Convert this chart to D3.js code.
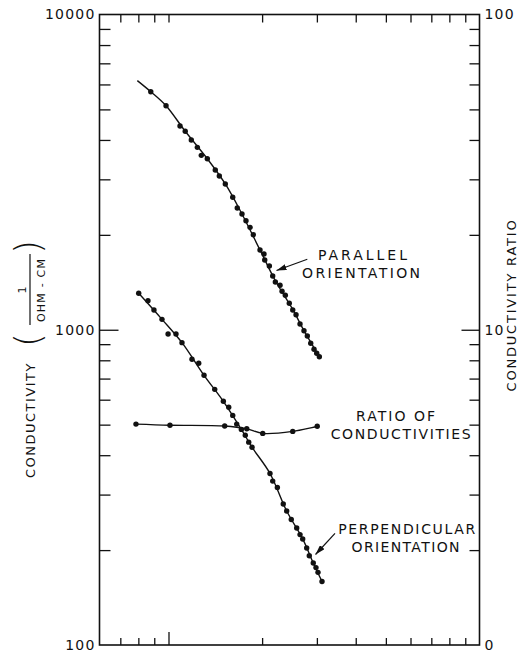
<!DOCTYPE html>
<html>
<head>
<meta charset="utf-8">
<script src="https://cdn.jsdelivr.net/npm/d3@7"></script>
<style>
body { margin: 0; background: #fff; }
text { font-family: "DejaVu Sans", sans-serif; fill: #111; }
</style>
</head>
<body>
<div id="chart"></div>
<script>
// parallel orientation (measured points)
var parallelX = [0.877, 0.982, 1.089, 1.132, 1.184, 1.238, 1.275, 1.333, 1.414, 1.457, 1.523, 1.609, 1.664, 1.723, 1.775, 1.829, 1.874, 1.969, 2.028, 2.039, 2.110, 2.163, 2.206, 2.284, 2.318, 2.375, 2.446, 2.509, 2.571, 2.648, 2.727, 2.795, 2.866, 2.937, 2.996, 3.055];
var parallelY = [5690, 5136, 4429, 4262, 3999, 3790, 3575, 3488, 3211, 3074, 2900, 2631, 2434, 2329, 2218, 2113, 2002, 1791, 1739, 1664, 1593, 1481, 1417, 1384, 1324, 1286, 1213, 1155, 1116, 1043, 993, 955, 906, 867, 842, 821];
// smooth curve drawn through them
var parallelCurveX = [0.794, 0.877, 0.982, 1.132, 1.333, 1.523, 1.723, 1.969, 2.206, 2.509, 2.727, 3.055];
var parallelCurveY = [6170, 5690, 5136, 4262, 3488, 2900, 2329, 1791, 1430, 1160, 993, 821];

// perpendicular orientation
var perpX = [0.802, 0.859, 0.898, 0.953, 0.997, 1.057, 1.105, 1.190, 1.251, 1.301, 1.408, 1.501, 1.562, 1.609, 1.657, 1.715, 1.766, 1.811, 1.856, 2.120, 2.163, 2.239, 2.339, 2.399, 2.482, 2.584, 2.648, 2.701, 2.782, 2.836, 2.921, 2.980, 3.025, 3.116];
var perpY = [1305, 1236, 1155, 1079, 969, 969, 910, 806, 783, 717, 647, 593, 568, 535, 502, 483, 463, 440, 424, 350, 331, 316, 280, 266, 250, 235, 224, 217, 203, 192, 182, 176, 170, 159];
var perpCurveX = [0.802, 0.953, 1.105, 1.301, 1.501, 1.715, 1.856, 2.120, 2.399, 2.701, 2.921, 3.116];
var perpCurveY = [1305, 1079, 910, 717, 593, 483, 424, 350, 266, 217, 182, 159];

// ratio of conductivities (right axis)
var ratioX = [0.786, 1.011, 1.516, 1.785, 2.009, 2.509, 3.008];
var ratioY = [5.02, 4.98, 4.95, 4.85, 4.69, 4.76, 4.94];

var leftTicks = [200, 300, 400, 500, 600, 700, 800, 900, 1000, 2000, 3000, 4000, 5000, 6000, 7000, 8000, 9000];
var leftLabelValues = [100, 1000, 10000];
var leftLabelText = ["100", "1000", "10000"];
var rightTicks = [2, 3, 4, 5, 6, 7, 8, 9, 10, 20, 30, 40, 50, 60, 70, 80, 90];
var rightLabelValues = [1, 10, 100];
var rightLabelText = ["0", "10", "100"];
var xTicks = [0.7, 0.8, 0.9, 1, 2, 3, 4, 5, 6, 7, 8, 9];

var width = 523;
var height = 658;
var plotLeft = 99.5, plotRight = 479.5, plotTop = 14.5, plotBottom = 645;

var svg = d3.select('#chart')
  .append('svg')
  .attr('width', width)
  .attr('height', height);

var x = d3.scaleLog().domain([0.6, 10]).range([plotLeft, plotRight]);
var y = d3.scaleLog().domain([100, 10000]).range([plotBottom, plotTop]);
var yRatio = d3.scaleLog().domain([1, 100]).range([plotBottom, plotTop]);

function isMajor(d) {
  return Math.abs(Math.log10(d) - Math.round(Math.log10(d))) < 1e-9;
}

// frame
svg.append('rect')
  .attr('x', plotLeft).attr('y', plotTop)
  .attr('width', plotRight - plotLeft).attr('height', plotBottom - plotTop)
  .attr('fill', 'none').attr('stroke', '#111').attr('stroke-width', 1.6);

// left axis: ticks inward, labels outside
var leftAxis = svg.append('g')
  .attr('transform', 'translate(' + plotLeft + ',0)')
  .call(d3.axisLeft(y).tickValues(leftTicks).tickSizeInner(-11).tickSizeOuter(0).tickFormat(''));
leftAxis.selectAll('line').attr('x2', function(d) { return isMajor(d) ? 19 : 11; });

svg.append('g')
  .attr('transform', 'translate(' + plotLeft + ',0)')
  .call(d3.axisLeft(y).tickValues(leftLabelValues).tickSize(0).tickPadding(4)
    .tickFormat(function(d, i) { return leftLabelText[i]; }));

var rightAxis = svg.append('g')
  .attr('transform', 'translate(' + plotRight + ',0)')
  .call(d3.axisRight(yRatio).tickValues(rightTicks).tickSizeInner(-10).tickSizeOuter(0).tickFormat(''));
rightAxis.selectAll('line').attr('x2', function(d) { return isMajor(d) ? -18 : -10; });

svg.append('g')
  .attr('transform', 'translate(' + plotRight + ',0)')
  .call(d3.axisRight(yRatio).tickValues(rightLabelValues).tickSize(0).tickPadding(5)
    .tickFormat(function(d, i) { return rightLabelText[i]; }));

var bottomAxis = svg.append('g')
  .attr('transform', 'translate(0,' + plotBottom + ')')
  .call(d3.axisBottom(x).tickValues(xTicks).tickSizeInner(-7).tickSizeOuter(0).tickFormat(''));
bottomAxis.selectAll('line').attr('y2', function(d) { return d === 1 ? -13 : -7; });

svg.append('g')
  .attr('transform', 'translate(0,' + plotTop + ')')
  .call(d3.axisTop(x).tickValues(xTicks).tickSizeInner(-8).tickSizeOuter(0).tickFormat(''));

svg.selectAll('.domain').remove();
svg.selectAll('.tick line').attr('stroke', '#111').attr('stroke-width', 1.3);
svg.selectAll('.tick text')
  .style('font-family', '"DejaVu Sans", sans-serif')
  .style('font-size', '14px')
  .style('letter-spacing', '1.2px')
  .attr('fill', '#111');

// curves
var line = d3.line()
  .x(function(d) { return x(d[0]); })
  .y(function(d) { return y(d[1]); })
  .curve(d3.curveCatmullRom.alpha(0.5));

var ratioLine = d3.line()
  .x(function(d) { return x(d[0]); })
  .y(function(d) { return yRatio(d[1]); })
  .curve(d3.curveCatmullRom.alpha(0.5));

function pairs(xs, ys) {
  return xs.map(function(v, i) { return [v, ys[i]]; });
}

svg.append('path')
  .datum(pairs(parallelCurveX, parallelCurveY))
  .attr('d', line)
  .attr('fill', 'none').attr('stroke', '#111').attr('stroke-width', 1.4);

svg.append('path')
  .datum(pairs(perpCurveX, perpCurveY))
  .attr('d', line)
  .attr('fill', 'none').attr('stroke', '#111').attr('stroke-width', 1.4);

svg.append('path')
  .datum(pairs(ratioX, ratioY))
  .attr('d', ratioLine)
  .attr('fill', 'none').attr('stroke', '#111').attr('stroke-width', 1.4);

function dots(data, scaleY) {
  svg.append('g').selectAll('circle')
    .data(data)
    .enter()
    .append('circle')
    .attr('cx', function(d) { return x(d[0]); })
    .attr('cy', function(d) { return scaleY(d[1]); })
    .attr('r', 2.7)
    .attr('fill', '#111');
}

dots(pairs(parallelX, parallelY), y);
dots(pairs(perpX, perpY), y);
dots(pairs(ratioX, ratioY), yRatio);

// annotations
svg.append('defs').append('marker')
  .attr('id', 'arrow')
  .attr('viewBox', '0 0 10 6')
  .attr('refX', 10).attr('refY', 3)
  .attr('markerWidth', 10).attr('markerHeight', 6)
  .attr('markerUnits', 'userSpaceOnUse')
  .attr('orient', 'auto')
  .append('path')
  .attr('d', 'M0,0 L10,3 L0,6 Z')
  .attr('fill', '#111');

var notes = [
  { text: 'PARALLEL', x: 362.5, y: 260, w: 89 },
  { text: 'ORIENTATION', x: 361, y: 278, w: 118 },
  { text: 'RATIO OF', x: 395.5, y: 421, w: 79 },
  { text: 'CONDUCTIVITIES', x: 400.7, y: 439, w: 140 },
  { text: 'PERPENDICULAR', x: 406.7, y: 533.5, w: 137 },
  { text: 'ORIENTATION', x: 405.5, y: 552, w: 108 }
];

svg.selectAll('.note')
  .data(notes)
  .enter()
  .append('text')
  .attr('class', 'note')
  .attr('x', function(d) { return d.x - d.w / 2; })
  .attr('y', function(d) { return d.y; })
  .attr('textLength', function(d) { return d.w; })
  .attr('lengthAdjust', 'spacing')
  .style('font-size', '14px')
  .text(function(d) { return d.text; });

var arrows = [[307.3, 259.3, 276.5, 270.5], [335, 533.3, 315.5, 554.5]];
svg.selectAll('.arrow')
  .data(arrows)
  .enter()
  .append('line')
  .attr('x1', function(d) { return d[0]; })
  .attr('y1', function(d) { return d[1]; })
  .attr('x2', function(d) { return d[2]; })
  .attr('y2', function(d) { return d[3]; })
  .attr('stroke', '#111').attr('stroke-width', 1.2)
  .attr('marker-end', 'url(#arrow)');

// left axis title
svg.append('text')
  .attr('transform', 'translate(35,420) rotate(-90)')
  .attr('text-anchor', 'middle')
  .style('font-size', '13px')
  .style('letter-spacing', '1.5px')
  .text('CONDUCTIVITY');

svg.append('text')
  .attr('transform', 'translate(40,340) rotate(-90)')
  .attr('text-anchor', 'middle')
  .style('font-size', '36px')
  .style('font-weight', '200')
  .text('(');

svg.append('text')
  .attr('transform', 'translate(40,247) rotate(-90)')
  .attr('text-anchor', 'middle')
  .style('font-size', '36px')
  .style('font-weight', '200')
  .text(')');

svg.append('text')
  .attr('transform', 'translate(26,290) rotate(-90)')
  .attr('text-anchor', 'middle')
  .style('font-size', '11px')
  .text('1');

svg.append('line')
  .attr('x1', 30).attr('y1', 254).attr('x2', 30).attr('y2', 325)
  .attr('stroke', '#111').attr('stroke-width', 1.2);

svg.append('text')
  .attr('transform', 'translate(45,290) rotate(-90)')
  .attr('text-anchor', 'middle')
  .style('font-size', '11px')
  .style('letter-spacing', '1.2px')
  .text('OHM - CM');

// right axis title
svg.append('text')
  .attr('transform', 'translate(516,305) rotate(-90)')
  .attr('text-anchor', 'middle')
  .style('font-size', '13px')
  .style('letter-spacing', '1.8px')
  .text('CONDUCTIVITY RATIO');
</script>
</body>
</html>
